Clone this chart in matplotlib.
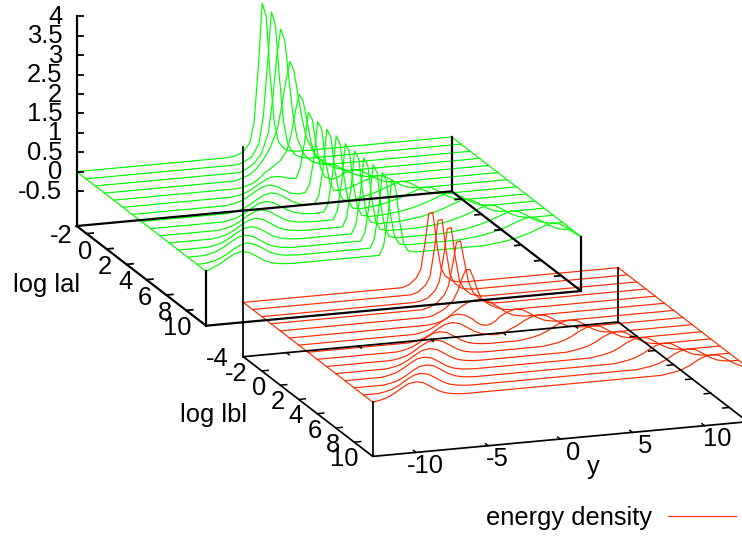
# Two stacked energy density surfaces, gnuplot style, projected by hand
import numpy as np
import matplotlib
matplotlib.use("Agg")
from matplotlib import pyplot as plt

plt.rcParams['font.family'] = ['Liberation Sans', 'DejaVu Sans']

# Data
y_grid = [-13, -12.5, -12, -11.5, -11, -10.5, -10, -9.5, -9, -8.5, -8, -7.5, -7, -6.5, -6, -5.5, -5, -4.5, -4, -3.5,
          -3, -2.5, -2, -1.5, -1, -.7, -.4, -.14, .14, .4, .7, 1, 1.5, 2, 2.5, 3, 3.5, 4, 4.5, 5,
          5.5, 6, 6.5, 7, 7.5, 8, 8.5, 9, 9.5, 10, 10.5, 11, 11.5, 12, 12.5, 13]

log_a = [-3, -2.07, -1.14, -.21, .71, 1.64, 2.57, 3.5, 4.43, 5.36, 6.29, 7.21, 8.14, 9.07, 10]
log_b = [-4, -3, -2, -1, 0, 1, 2, 3, 4, 5, 6, 7, 8, 9, 10]

green_z = [
    [0]*22 + [.03, .1, .33, .85, 2.3, 3.9, 3.55, 2.08, .8, .27, .06, .01] + [0]*22,
    [0]*22 + [.07, .17, .5, 1.2, 2.6, 3.86, 3.5, 2.2, 1.0, .4, .12, .03] + [0]*22,
    [0]*21 + [.08, .2, .42, .95, 1.8, 2.95, 3.6, 3.3, 2.4, 1.4, .75, .3, .12, .04] + [0]*21,
    [0]*19 + [.05, .12, .25, .47, .78, 1.25, 1.85, 2.5, 2.95, 2.7, 2.1, 1.45, .95, .55, .35, .2, .1, .04] + [0]*19,
    [0]*18 + [.03, .08, .18, .35, .47, .6, .85, 1.25, 1.85, 2.29, 2.1, 1.6, 1.0, .65, .45, .42, .35, .22, .12, .05, .01] + [0]*17,
    [0]*16 + [.03, .08, .17, .29, .39, .43, .41, .35, .33, .6, 1.25, 2.01, 1.8, 1.15, .55, .3, .22, .28, .38, .42, .38, .27, .15, .06, .02] + [0]*15,
    [0]*14 + [.03, .08, .17, .29, .39, .43, .38, .27, .17, .13, .15, .35, 1.0, 1.95, 1.75, .95, .35, .14, .12, .17, .23, .3, .37, .42, .38, .27, .15, .06, .02] + [0]*13,
    [0]*13 + [.03, .08, .17, .29, .39, .43, .38, .27, .15, .07, .04, .05, .25, .95, 1.94, 1.72, .9, .28, .07, .05, .08, .12, .17, .23, .3, .37, .42, .38, .27, .15, .06, .02] + [0]*11,
    [0]*11 + [.03, .08, .17, .29, .39, .43, .38, .27, .15, .07, .03, .01, 0, .02, .22, .95, 1.95, 1.72, .88, .25, .05, .01, .03, .05, .08, .12, .17, .23, .3, .37, .42, .38, .27, .15, .06, .02] + [0]*9,
    [0]*9 + [.03, .08, .17, .29, .39, .43, .38, .27, .15, .07, .03, .01] + [0]*3 + [0, .22, .95, 1.93, 1.72, .88, .25, .05, 0, 0, .01, .03, .05, .08, .12, .17, .23, .3, .37, .42, .38, .27, .15, .06, .02] + [0]*7,
    [0]*7 + [.03, .08, .17, .29, .39, .43, .38, .27, .15, .07, .03, .01] + [0]*5 + [0, .22, .95, 1.93, 1.72, .88, .25, .05] + [0]*3 + [.01, .03, .05, .08, .12, .17, .23, .3, .37, .42, .38, .27, .15, .06, .02] + [0]*6,
    [0]*5 + [.03, .08, .17, .29, .39, .43, .38, .27, .15, .07, .03, .01] + [0]*7 + [0, .22, .95, 1.93, 1.72, .88, .25, .05] + [0]*5 + [.01, .03, .05, .08, .12, .17, .23, .3, .37, .42, .38, .27, .15, .06, .02] + [0]*4,
    [0]*3 + [.03, .08, .17, .29, .39, .43, .38, .27, .15, .07, .03, .01] + [0]*9 + [0, .22, .95, 1.94, 1.72, .88, .25, .05] + [0]*7 + [.01, .03, .05, .08, .12, .17, .23, .3, .37, .42, .38, .27, .15, .06, .02] + [0]*2,
    [0]*2 + [.03, .08, .17, .29, .39, .43, .38, .27, .15, .07, .03, .01] + [0]*10 + [0, .22, .95, 1.92, 1.72, .88, .25, .05] + [0]*8 + [.01, .03, .05, .08, .12, .17, .23, .3, .37, .42, .38, .27, .15, .06, .02] + [0],
    [0, .08, .17, .29, .39, .43, .38, .27, .15, .07, .03, .01] + [0]*12 + [0, .22, .95, 1.92, 1.72, .88, .25, .05] + [0]*10 + [.01, .03, .05, .08, .12, .17, .23, .3, .37, .42, .38, .27, .12, 0],
]

red_z = [
    [0]*23 + [.06, .22, .42, 1.1, 1.85, 1.87, 1.1, .42, .2, .05, .01] + [0]*22,
    [0]*23 + [.06, .22, .42, 1.1, 1.85, 1.87, 1.1, .42, .2, .05, .01] + [0]*22,
    [0]*22 + [.02, .08, .25, .47, 1.1, 1.82, 1.84, 1.1, .47, .24, .08, .02] + [0]*22,
    [0]*22 + [.05, .14, .32, .55, 1.1, 1.66, 1.68, 1.15, .6, .33, .14, .05] + [0]*22,
    [0]*21 + [.02, .1, .2, .38, .6, .92, 1.13, 1.13, .9, .55, .32, .18, .08, .02] + [0]*21,
    [0]*20 + [.02, .06, .15, .3, .42, .48, .52, .53, .53, .5, .46, .42, .3, .15, .06, .02] + [0]*20,
    [0]*17 + [.03, .08, .17, .29, .39, .42, .38, .27, .17, .1, .07, .07, .1, .17, .27, .36, .41, .38, .27, .15, .06, .02] + [0]*17,
    [0]*15 + [.03, .08, .17, .29, .39, .42, .38, .27, .15, .07, .04, .02, .01, .01, .02, .05, .11, .19, .3, .38, .41, .38, .27, .15, .06, .02] + [0]*15,
    [0]*12 + [.03, .08, .17, .29, .39, .42, .38, .27, .15, .07, .03, .01] + [0]*8 + [.03, .06, .11, .19, .3, .38, .41, .38, .27, .15, .06, .02] + [0]*12,
    [0]*10 + [.03, .08, .17, .29, .39, .42, .38, .27, .15, .07, .03, .01] + [0]*2 + [0]*8 + [0, 0, .03, .06, .11, .19, .3, .38, .41, .38, .27, .15, .06, .02] + [0]*10,
    [0]*8 + [.03, .08, .17, .29, .39, .42, .38, .27, .15, .07, .03, .01] + [0]*4 + [0]*8 + [0]*4 + [.03, .06, .11, .19, .3, .38, .41, .38, .27, .15, .06, .02] + [0]*8,
    [0]*6 + [.03, .08, .17, .29, .39, .42, .38, .27, .15, .07, .03, .01] + [0]*6 + [0]*8 + [0]*6 + [.03, .06, .11, .19, .3, .38, .41, .38, .27, .15, .06, .02] + [0]*6,
    [0]*5 + [.03, .08, .17, .29, .39, .42, .38, .27, .15, .07, .03, .01] + [0]*7 + [0]*8 + [0]*8 + [.03, .06, .11, .19, .3, .38, .41, .38, .27, .15, .06, .02] + [0]*4,
    [0]*3 + [.03, .08, .17, .29, .39, .42, .38, .27, .15, .07, .03, .01] + [0]*9 + [0]*8 + [0]*10 + [.03, .06, .11, .19, .3, .38, .41, .38, .27, .15, .06, .02] + [0]*2,
    [0] + [.03, .08, .17, .29, .39, .42, .38, .27, .15, .07, .03, .01] + [0]*11 + [0]*8 + [0]*12 + [.03, .06, .11, .19, .3, .38, .41, .38, .27, .15, .06, 0],
]

y_ticks = [-10, -5, 0, 5, 10]
a_ticks = [-2, 0, 2, 4, 6, 8, 10]
b_ticks = [-4, -2, 0, 2, 4, 6, 8, 10]
z_ticks = [-0.5, 0, 0.5, 1, 1.5, 2, 2.5, 3, 3.5, 4]

GREEN = '#00ff00'
RED = '#ff2a00'
FS = 18.4
Y_MIN, Y_MAX = -13, 13
Z_LOW, Z_TOP = -1.4, 4
PX_Z = 38.8


# oblique projection of one box, origin is the left back bottom corner in pixels
def project(origin, lo, hi, y, log, z):
    y = np.asarray(y, float)
    log = np.asarray(log, float)
    z = np.asarray(z, float)
    u = (y - Y_MIN) / (Y_MAX - Y_MIN)
    v = (log - lo) / (hi - lo)
    return origin[0] + 375 * u + 129.4 * v, origin[1] - 34.7 * u + 99.7 * v - PX_Z * (z - Z_LOW)


def draw_surface(ax, origin, lo, hi, logs, rows, color):
    rows = np.array(rows, float)
    for log, row in zip(logs, rows):
        ax.plot(*project(origin, lo, hi, y_grid, log, row), color=color, lw=0.85)
    ax.plot(*project(origin, lo, hi, Y_MIN, logs, rows[:, 0]), color=color, lw=0.85)
    ax.plot(*project(origin, lo, hi, Y_MAX, logs, rows[:, -1]), color=color, lw=0.85)


def draw_box(ax, origin, lo, hi, lw):
    corners = [(Y_MIN, lo), (Y_MIN, hi), (Y_MAX, hi), (Y_MAX, lo), (Y_MIN, lo)]
    xs, ys = zip(*[project(origin, lo, hi, c[0], c[1], Z_LOW) for c in corners])
    ax.plot(xs, ys, color='k', lw=lw, solid_joinstyle='miter')
    for c in corners[1:4]:
        xs, ys = zip(project(origin, lo, hi, c[0], c[1], Z_LOW), project(origin, lo, hi, c[0], c[1], 0))
        ax.plot(xs, ys, color='k', lw=lw)
    xs, ys = zip(project(origin, lo, hi, Y_MIN, lo, Z_LOW), project(origin, lo, hi, Y_MIN, lo, Z_TOP))
    ax.plot(xs, ys, color='k', lw=lw)


def draw_log_ticks(ax, origin, lo, hi, ticks, lw):
    for t in ticks:
        x, y = project(origin, lo, hi, Y_MIN, t, Z_LOW)
        if t != lo and t != hi:
            ax.plot([x, x + 6.5], [y, y - 0.6], color='k', lw=lw)
            x2, y2 = project(origin, lo, hi, Y_MAX, t, Z_LOW)
            ax.plot([x2, x2 - 6.5], [y2, y2 + 0.6], color='k', lw=lw)
        ax.text(x - 14.2, y + 2.7, str(t), ha='right', va='center', fontsize=FS)


fig = plt.figure(figsize=(7.42, 5.37), dpi=100)
ax = fig.add_axes([0, 0, 1, 1])
ax.set_xlim(0, 742)
ax.set_ylim(537, 0)
ax.axis('off')

green_origin = (76.7, 226)
red_origin = (243.3, 356.7)

draw_surface(ax, green_origin, -3, 10, log_a, green_z, GREEN)
draw_surface(ax, red_origin, -4, 10, log_b, red_z, RED)

draw_box(ax, green_origin, -3, 10, 1.6)
draw_box(ax, red_origin, -4, 10, 1.25)
draw_log_ticks(ax, green_origin, -3, 10, a_ticks, 1.3)
draw_log_ticks(ax, red_origin, -4, 10, b_ticks, 1.1)

# z axis of the upper box only has tics
for t in z_ticks:
    x, y = project(green_origin, -3, 10, Y_MIN, -3, t)
    ax.plot([x, x + 6], [y, y], color='k', lw=1.3)
    ax.text(x - 14.4, y + 0.5, f'{t:g}', ha='right', va='center', fontsize=FS)

# y axis tics sit on the front and back edge of the lower box
for t in y_ticks:
    x, y = project(red_origin, -4, 10, t, 10, Z_LOW)
    ax.plot([x, x - 2.5], [y, y - 2], color='k', lw=1.1)
    dx = 9 if t < 0 else 13
    ax.text(x + dx, y + 13.5, str(t), ha='center', va='center', fontsize=FS)
    x, y = project(red_origin, -4, 10, t, -4, Z_LOW)
    ax.plot([x, x + 2.5], [y, y + 2], color='k', lw=1.1)

ax.text(47, 285, 'log lal', ha='center', va='center', fontsize=FS)
ax.text(214, 415, 'log lbl', ha='center', va='center', fontsize=FS)
ax.text(593, 467, 'y', ha='center', va='center', fontsize=FS)

ax.text(652, 518, 'energy density', ha='right', va='center', fontsize=FS)
ax.plot([668, 736], [516.3, 516.3], color=RED, lw=0.85)

fig.savefig('out.png', dpi=100)
